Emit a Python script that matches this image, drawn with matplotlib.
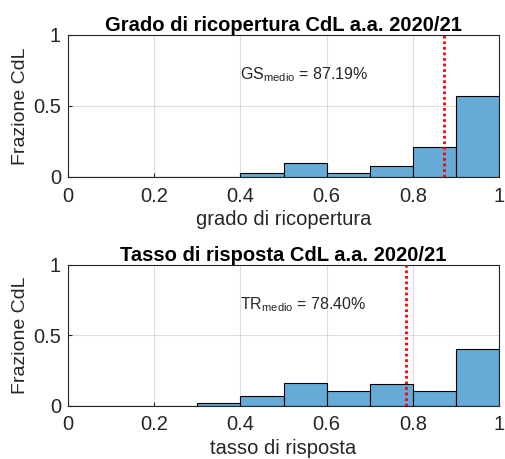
import matplotlib.pyplot as plt
import numpy as np

plt.rcParams['font.family'] = ['Liberation Sans', 'DejaVu Sans']

# bin edges and fractions
edges = [0, 0.1, 0.2, 0.3, 0.4, 0.5, 0.6, 0.7, 0.8, 0.9, 1.0]
gs_frac = [0, 0, 0, 0, 0.026, 0.096, 0.026, 0.077, 0.211, 0.568]
tr_frac = [0, 0, 0, 0.017, 0.066, 0.159, 0.107, 0.152, 0.107, 0.403]
gs_mean = 0.8719
tr_mean = 0.7840

titles = ['Grado di ricopertura CdL a.a. 2020/21', 'Tasso di risposta CdL a.a. 2020/21']
xlabels = ['grado di ricopertura', 'tasso di risposta']
notes = [r'GS$_{\mathregular{medio}}$ = 87.19%', r'TR$_{\mathregular{medio}}$ = 78.40%']

dark = '#262626'
bar_col = '#66AAD7'

fig = plt.figure(figsize=(5.05, 4.59), dpi=100)
ax1 = fig.add_axes([0.1347, 0.6144, 0.8535, 0.3094])
ax2 = fig.add_axes([0.1347, 0.1161, 0.8535, 0.3066])

for ax, frac, mean, title, xl, note in zip([ax1, ax2], [gs_frac, tr_frac], [gs_mean, tr_mean],
                                           titles, xlabels, notes):
    ax.bar(edges[:-1], frac, width=np.diff(edges), align='edge', color=bar_col,
           edgecolor='black', linewidth=0.8, zorder=2)
    ax.plot([mean, mean], [0, 1], color='red', linestyle=(0, (1, 1)), linewidth=2, zorder=3)
    ax.text(0.4, 0.72, note, fontsize=11.5, va='center', ha='left', color=dark)

    ax.set_xlim(0, 1)
    ax.set_ylim(0, 1)
    ax.set_xticks([0, 0.2, 0.4, 0.6, 0.8, 1])
    ax.set_xticklabels(['0', '0.2', '0.4', '0.6', '0.8', '1'])
    ax.set_yticks([0, 0.5, 1])
    ax.set_yticklabels(['0', '0.5', '1'])
    ax.grid(True, color=dark, alpha=0.15, linewidth=0.8, zorder=0)
    ax.set_axisbelow(True)
    ax.tick_params(direction='in', length=3, colors=dark, labelsize=14.5)
    ax.tick_params(axis='x', pad=7)
    ax.tick_params(axis='y', pad=5)
    for s in ax.spines.values():
        s.set_color(dark)
        s.set_linewidth(0.8)
    ax.set_title(title, fontsize=14.5, fontweight='bold', pad=3)
    ax.set_xlabel(xl, fontsize=14.5, color=dark, labelpad=3)
    ax.set_ylabel('Frazione CdL', fontsize=14, color=dark, labelpad=3)

fig.savefig('out.png', dpi=100)
